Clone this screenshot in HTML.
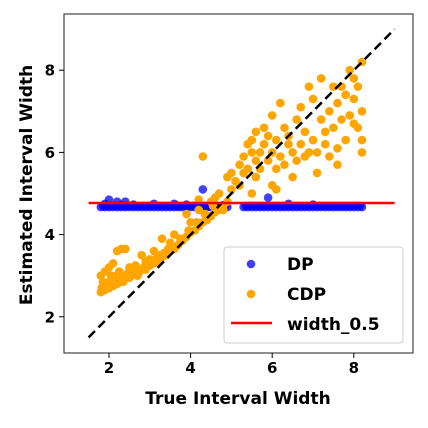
<!DOCTYPE html>
<html><head><meta charset="utf-8"><style>
body{margin:0;background:#fff;}
svg text{font-family:"DejaVu Sans","Liberation Sans",sans-serif;font-weight:bold;}
</style></head><body>
<svg id="chart" width="428" height="423" xmlns="http://www.w3.org/2000/svg">
<g id="marks"></g>
<g id="axes"></g>
</svg>
<script>
const xTicks=[2,4,6,8];
const yTicks=[2,4,6,8];
const widthLine=4.77;
const dpX=[1.8,1.9,2.0,2.1,2.2,2.3,2.4,2.5,2.6,2.7,2.8,2.9,3.0,3.1,3.2,3.3,3.4,3.5,3.6,3.7,3.8,3.9,4.0,4.1,4.2,4.3,4.4,4.5,4.6,4.7,4.8,4.9,5.3,5.4,5.5,5.6,5.7,5.8,5.9,6.0,6.1,6.2,6.3,6.4,6.5,6.6,6.7,6.8,6.9,7.0,7.1,7.2,7.3,7.4,7.5,7.6,7.7,7.8,7.9,8.0,8.1,8.2,
1.85,1.95,2.05,2.15,2.25,2.35,2.45,2.55,2.65,2.75,2.85,2.95,3.05,3.15,3.25,3.35,3.45,3.55,3.65,3.75,3.85,3.95,4.05,4.15,4.25,4.35,4.45,4.55,4.65,4.75,4.85,5.35,5.45,5.55,5.65,5.75,5.85,5.95,6.05,6.15,6.25,6.35,6.45,6.55,6.65,6.75,6.85,6.95,7.05,7.15,7.25,7.35,7.45,7.55,7.65,7.75,7.85,7.95,8.05,8.15,
2.0,2.2,2.4,3.1,3.6,4.3,5.9,6.4,2.3,1.9,2.6,3.9,7.0];
const dpY=[4.67,4.67,4.67,4.67,4.67,4.67,4.67,4.67,4.67,4.67,4.67,4.67,4.67,4.67,4.67,4.67,4.67,4.67,4.67,4.67,4.67,4.67,4.67,4.67,4.67,4.67,4.67,4.67,4.67,4.67,4.67,4.67,4.67,4.67,4.67,4.67,4.67,4.67,4.67,4.67,4.67,4.67,4.67,4.67,4.67,4.67,4.67,4.67,4.67,4.67,4.67,4.67,4.67,4.67,4.67,4.67,4.67,4.67,4.67,4.67,4.67,4.67,
4.7,4.7,4.7,4.7,4.7,4.7,4.7,4.7,4.7,4.7,4.7,4.7,4.7,4.7,4.7,4.7,4.7,4.7,4.7,4.7,4.7,4.7,4.7,4.7,4.7,4.7,4.7,4.7,4.7,4.7,4.7,4.7,4.7,4.7,4.7,4.7,4.7,4.7,4.7,4.7,4.7,4.7,4.7,4.7,4.7,4.7,4.7,4.7,4.7,4.7,4.7,4.7,4.7,4.7,4.7,4.7,4.7,4.7,4.7,4.7,
4.85,4.8,4.8,4.75,4.75,5.1,4.9,4.75,4.72,4.75,4.73,4.73,4.73];
const cdpX=[1.8,1.85,1.9,1.95,2.0,2.05,2.1,2.15,2.2,2.3,2.35,2.4,2.5,2.55,2.6,2.7,2.75,2.8,2.9,3.0,3.1,3.2,3.3,3.4,3.5,3.6,3.7,3.8,3.9,4.0,4.1,4.2,4.3,4.4,4.5,4.6,4.7,4.8,4.9,
1.8,1.9,2.0,2.1,2.2,2.3,2.4,2.2,2.6,2.8,3.0,3.1,3.3,3.5,3.6,3.9,4.0,4.2,4.3,4.5,4.6,4.2,4.7,4.9,5.0,4.8,
1.82,1.9,2.0,2.1,2.2,2.3,2.45,2.6,2.7,2.85,3.0,3.15,3.35,3.55,3.75,3.95,4.15,4.35,4.55,1.85,2.05,2.25,2.5,2.65,2.9,3.2,3.45,
5.0,5.1,5.2,5.3,5.3,5.4,5.4,5.5,5.5,5.6,5.6,5.7,5.7,5.8,5.8,5.9,5.9,6.0,6.0,6.1,6.1,6.2,6.2,6.3,6.3,6.4,6.5,6.5,6.6,6.6,6.7,6.7,6.8,6.8,6.9,6.9,7.0,7.0,7.1,7.1,7.2,7.2,7.3,7.4,7.4,7.5,7.5,7.6,7.6,7.7,7.7,7.8,7.8,7.9,8.0,8.0,8.0,8.1,8.1,8.2,8.2,7.9,6.0,5.6,6.4,7.3,7.6,8.2,8.2,5.2,5.5,6.1];
const cdpY=[2.6,2.7,2.65,2.75,2.7,2.8,2.75,2.85,2.8,2.9,2.85,2.95,2.95,3.0,3.05,3.0,3.1,3.15,3.15,3.25,3.3,3.35,3.45,3.5,3.6,3.65,3.75,3.85,3.95,4.05,4.1,4.2,4.3,4.35,4.45,4.55,4.6,4.7,4.8,
3.0,3.1,3.2,3.3,3.6,3.65,3.65,3.0,3.2,3.5,3.4,3.6,3.9,3.8,4.0,4.5,4.3,4.6,5.9,4.8,4.9,4.85,5.0,5.4,5.5,4.6,
2.7,2.75,2.85,2.9,2.95,3.0,3.05,3.1,3.15,3.2,3.3,3.4,3.55,3.7,3.9,4.1,4.3,4.5,4.7,2.85,3.0,3.1,3.2,3.25,3.35,3.5,3.65,
5.1,5.3,5.2,5.5,5.9,6.2,5.6,6.0,6.3,5.8,6.5,6.0,5.6,6.2,6.6,5.8,6.4,6.0,6.9,5.6,6.3,5.9,7.2,5.7,6.6,6.2,5.4,6.0,5.8,6.8,6.2,7.1,5.9,6.5,6.0,7.6,6.3,7.3,5.5,6.0,7.8,6.8,6.2,5.9,7.0,6.6,7.6,6.1,7.2,6.8,7.6,6.3,7.4,6.9,6.7,7.3,7.8,6.6,7.6,8.2,7.0,8.0,5.2,5.4,6.4,6.5,5.7,6.3,6.0,5.7,5.0,5.1];
const NS='http://www.w3.org/2000/svg';
const L=64,R=413,T=14,B=353;
function sx(v){return 27.4+v*40.8;}
function sy(v){return 399-v*41.1;}
const marks=document.getElementById('marks');
const axes=document.getElementById('axes');
function mk(tag,attrs,parent){const e=document.createElementNS(NS,tag);for(const k in attrs)e.setAttribute(k,attrs[k]);parent.appendChild(e);return e;}
for(let i=0;i<dpX.length;i++){
 const c=mk('circle',{cx:sx(dpX[i]),cy:sy(dpY[i]),r:4.3,fill:'#0000ff','fill-opacity':0.75},marks);
 
 
}
for(let i=0;i<cdpX.length;i++){
 const c=mk('circle',{cx:sx(cdpX[i]),cy:sy(cdpY[i]),r:4.3,fill:'#ffa500'},marks);
 
 
}
const d=mk('line',{x1:sx(1.5),y1:sy(1.5),x2:sx(9),y2:sy(9),stroke:'#000','stroke-width':2.5,'stroke-dasharray':'9,5'},marks);


const rl=mk('line',{x1:sx(1.5),y1:sy(widthLine),x2:sx(9),y2:sy(widthLine),stroke:'#ff0000','stroke-width':2.5},marks);


const fr=mk('rect',{x:L,y:T,width:R-L,height:B-T,fill:'none',stroke:'#444','stroke-width':1.2},axes);


for(const t of xTicks){
 mk('line',{x1:sx(t),y1:B,x2:sx(t),y2:B+5,stroke:'#000','stroke-width':1},axes);
 const tx=mk('text',{x:sx(t),y:B+20,'text-anchor':'middle','font-size':15},axes);tx.textContent=t;
 
 
}
for(const t of yTicks){
 mk('line',{x1:L-5,y1:sy(t),x2:L,y2:sy(t),stroke:'#000','stroke-width':1},axes);
 const tx=mk('text',{x:L-9,y:sy(t)+5.5,'text-anchor':'end','font-size':15},axes);tx.textContent=t;
 
 
}
const xl=mk('text',{x:238,y:404,'text-anchor':'middle','font-size':17},axes);xl.textContent='True Interval Width';


const yl=mk('text',{x:0,y:0,'text-anchor':'middle','font-size':17,transform:'translate(32,185) rotate(-90)'},axes);yl.textContent='Estimated Interval Width';


const lg=mk('g',{},axes);


mk('rect',{x:224,y:247,width:179,height:96,rx:3,fill:'#fff','fill-opacity':0.85,stroke:'#ccc'},lg);
mk('circle',{cx:251,cy:264,r:4.3,fill:'#0000ff','fill-opacity':0.75},lg);
mk('circle',{cx:251,cy:294,r:4.3,fill:'#ffa500'},lg);
mk('line',{x1:231,y1:323,x2:272,y2:323,stroke:'#ff0000','stroke-width':2.5},lg);
const labels=['DP','CDP','width_0.5'];
for(let i=0;i<3;i++){
 const t=mk('text',{x:287,y:270+i*30,'font-size':17},lg);t.textContent=labels[i];
 
 
}
</script>
</body></html>
